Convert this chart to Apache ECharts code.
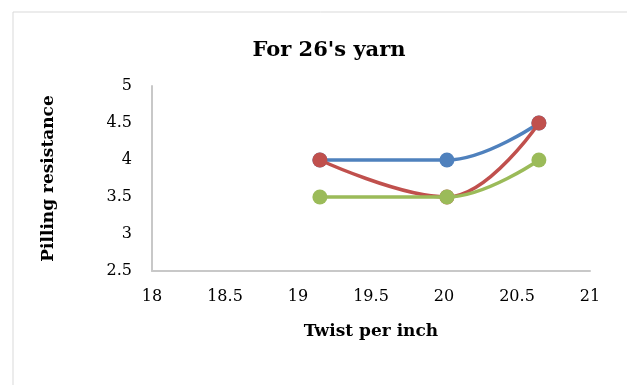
<!DOCTYPE html>
<html><head><meta charset="utf-8">
<script src="https://cdn.jsdelivr.net/npm/echarts@6/dist/echarts.min.js"></script>
<style>html,body{margin:0;padding:0;background:#fff}#c{width:627px;height:385px}</style>
</head><body><div id="c"></div>
<script>
const twist = [19.15, 20.02, 20.65];
const seriesA = [4, 4, 4.5];
const seriesB = [4, 3.5, 4.5];
const seriesC = [3.5, 3.5, 4];
const colors = ['#4f81bd', '#c0504d', '#9bbb59'];
const font = '"DejaVu Serif", "Liberation Serif", serif';

const chart = echarts.init(document.getElementById('c'));
function mk(vals, i) {
  return {
    type: 'line', smooth: 0.4, data: twist.map((x, k) => [x, vals[k]]),
    symbol: 'circle', symbolSize: 15,
    lineStyle: { width: 3.5, color: colors[i] },
    itemStyle: { color: colors[i] }, z: 2 + i
  };
}
chart.setOption({
  animation: false,
  graphic: [{ type: 'rect', shape: { x: 13, y: 12, width: 640, height: 400 },
    style: { fill: 'none', stroke: '#d9d9d9', lineWidth: 1 } }],
  title: { text: "For 26's yarn", left: 324, top: 35, textAlign: 'center',
    textStyle: { fontFamily: font, fontWeight: 'bold', fontSize: 21, color: '#000' } },
  grid: { left: 152, top: 86, right: 37, bottom: 114 },
  xAxis: { type: 'value', min: 18, max: 21, interval: 0.5,
    name: 'Twist per inch', nameLocation: 'middle', nameGap: 52,
    nameTextStyle: { fontFamily: font, fontWeight: 'bold', fontSize: 17, color: '#000' },
    axisLine: { lineStyle: { color: '#c8c8c8', width: 2 } }, axisTick: { show: false },
    splitLine: { show: false },
    axisLabel: { fontFamily: font, fontSize: 16, color: '#000', margin: 18 } },
  yAxis: { type: 'value', min: 2.5, max: 5, interval: 0.5,
    name: 'Pilling resistance', nameLocation: 'middle', nameGap: 95, nameRotate: 90,
    nameTextStyle: { fontFamily: font, fontWeight: 'bold', fontSize: 17, color: '#000' },
    axisLine: { show: true, lineStyle: { color: '#c8c8c8', width: 2 } }, axisTick: { show: false },
    splitLine: { show: false },
    axisLabel: { fontFamily: font, fontSize: 16, color: '#000', margin: 20 } },
  series: [mk(seriesA, 0), mk(seriesB, 1), mk(seriesC, 2)]
});
</script></body></html>
